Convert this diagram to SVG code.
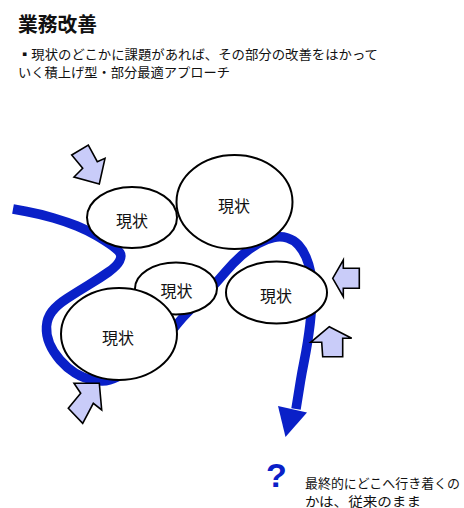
<svg xmlns="http://www.w3.org/2000/svg" width="464" height="508" viewBox="0 0 464 508">
<style>
.jp{font-family:"Noto Sans CJK JP","Noto Sans",sans-serif;fill:#111}
.node ellipse{fill:#fff;stroke:#000;stroke-width:2}
.node text{font-family:"Noto Sans CJK JP",sans-serif;font-size:16px;fill:#111;text-anchor:middle}
.barrow{fill:#c9ccf9;stroke:#000;stroke-width:1.6;stroke-linejoin:miter}
.flow{fill:none;stroke:#0a20c8;stroke-width:9.5;stroke-linecap:butt;stroke-linejoin:round}
</style>
<rect width="464" height="508" fill="#fff"/>
<g id="title">
<text class="jp" x="18" y="32" font-size="20" font-weight="bold" textLength="79" lengthAdjust="spacingAndGlyphs">業務改善</text>
<text class="jp" x="18" y="59" font-size="13" textLength="360" lengthAdjust="spacingAndGlyphs">▪現状のどこかに課題があれば、その部分の改善をはかって</text>
<text class="jp" x="18" y="76.5" font-size="13" textLength="212" lengthAdjust="spacingAndGlyphs">いく積上げ型・部分最適アプローチ</text>
</g>
<g id="connectors">
<path class="flow" d="M13,209 L26.5,211.5 Q40,214 53.5,218 Q67,222 77,226 Q87,230 97,236 Q107,242 112.5,246 Q118,250 120,253 Q122,256 119.5,261 Q117,266 108.5,272 Q100,278 88.5,285 Q77,292 67,298.5 Q57,305 52,311.5 Q47,318 46.5,326.5 Q46,335 49.5,343.5 Q53,352 60,360 Q67,368 75,373 Q83,378 93,380 Q103,382 109.5,380 Q116,378 133,369 Q150,360 164,341 Q178,322 188,312 Q198,302 207.5,292 Q217,282 225,272.5 Q233,263 241.5,255.5 Q250,248 258,243.5 Q266,239 273.5,237.5 Q281,236 287.5,238 Q294,240 298.5,245 Q303,250 306,257 Q309,264 310.5,272 Q312,280 312,289 Q312,298 311.5,307 Q311,316 310,324.5 Q309,333 307.5,342.5 Q306,352 304,362 Q302,372 300.5,381 Q299,390 296,409"/>
<polygon fill="#0a20c8" points="278,406 307,412.5 285.5,437"/>
</g>
<g id="node-a" class="node"><ellipse cx="132" cy="217.5" rx="45" ry="30.5"/><text x="132" y="227">現状</text></g>
<g id="node-b" class="node"><ellipse cx="234.5" cy="202" rx="58" ry="47"/><text x="234" y="212">現状</text></g>
<g id="node-c" class="node"><ellipse cx="176" cy="288.5" rx="41" ry="26"/><text x="176.5" y="297">現状</text></g>
<g id="node-d" class="node"><ellipse cx="276.5" cy="292.5" rx="50.5" ry="31"/><text x="276" y="302">現状</text></g>
<g id="node-e" class="node"><ellipse cx="119" cy="334" rx="58" ry="46"/><text x="118" y="344">現状</text></g>
<g id="arrow-tl"><polygon class="barrow" points="71.7,155 88.3,145 97.3,161.7 105,158.3 99.3,184 74,177 82.7,168.3"/></g>
<g id="arrow-r"><polygon class="barrow" points="332.7,278.3 343.3,260 343.3,268.3 359.3,268.3 359.3,288.3 343.3,288.3 343.3,296.7"/></g>
<g id="arrow-up"><polygon class="barrow" points="329.3,326.7 351.7,338.3 342.7,338.3 342.7,356.7 322.7,356.7 321.7,342.3 310.7,342.3"/></g>
<g id="arrow-bl"><polygon class="barrow" points="99.3,383.3 101.7,410 93.3,403.3 82.7,423.3 68.3,408.3 80.7,393.3 74,383.3"/></g>
<g id="note">
<text x="276.5" y="487" font-family="Liberation Sans,Arial,sans-serif" font-size="34" font-weight="bold" fill="#0a20c8" text-anchor="middle">?</text>
<text class="jp" x="305" y="488" font-size="13" textLength="155" lengthAdjust="spacingAndGlyphs">最終的にどこへ行き着くの</text>
<text class="jp" x="305" y="505.5" font-size="13" textLength="116" lengthAdjust="spacingAndGlyphs">かは、従来のまま</text>
</g>
</svg>
